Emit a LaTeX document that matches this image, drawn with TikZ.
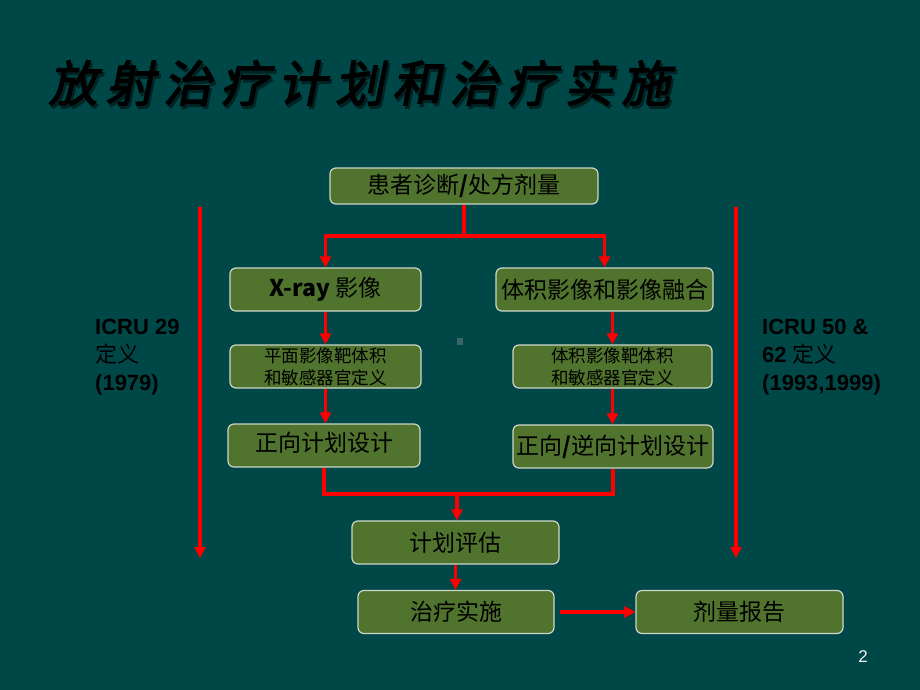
\documentclass[tikz,border=0pt]{standalone}
\usepackage{fontspec}
\setmainfont{Liberation Sans}
\newfontfamily\cjk{Noto Sans CJK SC}
\newfontfamily\titlefont{Noto Sans CJK SC}[FakeSlant=0.2,FakeBold=2.5]
\usetikzlibrary{arrows.meta}
\definecolor{bg}{RGB}{0,72,72}
\definecolor{boxfill}{RGB}{80,115,45}
\definecolor{boxline}{RGB}{205,215,200}
\definecolor{shadowc}{RGB}{0,36,36}
\definecolor{dotc}{RGB}{60,100,100}
\begin{document}
\begin{tikzpicture}[x=1pt,y=-1pt,
  box/.style={draw=boxline, line width=1.2pt, fill=boxfill, rounded corners=6pt,
    inner sep=0pt, align=center, text=black, font=\cjk\fontsize{23}{26}\selectfont},
  smallbox/.style={box, font=\cjk\fontsize{17.5}{22}\selectfont},
  conn/.style={draw=red, line width=3.4pt},
  arr/.style={conn, -{Triangle[length=11pt,width=11pt]}},
  lbl/.style={anchor=north west, align=left, inner sep=0pt, text=black,
    font=\fontsize{22}{28}\selectfont},
  ttl/.style={inner sep=0pt, font=\titlefont\fontsize{49}{52}\selectfont}]
\fill[bg] (0,0) rectangle (920,690);
\useasboundingbox (0,0) rectangle (920,690);

% title (one glyph per position, spaced as in the reference)
\foreach \ch [count=\i from 0] in {放,射,治,疗,计,划,和,治,疗,实,施}
  \node[ttl, text=shadowc] (tsh\i) at (75+\i*57.3,86) {\ch};
\foreach \ch [count=\i from 0] in {放,射,治,疗,计,划,和,治,疗,实,施}
  \node[ttl, text=black] (t\i) at (73+\i*57.3,83) {\ch};

% boxes
\node[box, minimum width=268pt, minimum height=36pt] (top) at (464,186) {患者诊断\textbf{/}处方剂量};
\node[box, minimum width=191pt, minimum height=43pt] (xray) at (325.5,289.5) {{\bfseries X-ray} 影像};
\node[box, minimum width=217pt, minimum height=43pt] (vol) at (604.5,289.5) {体积影像和影像融合};
\node[smallbox, minimum width=191pt, minimum height=43pt] (plan) at (325.5,366.5) {平面影像靶体积\\和敏感器官定义};
\node[smallbox, minimum width=199pt, minimum height=43pt] (volt) at (612.5,366.5) {体积影像靶体积\\和敏感器官定义};
\node[box, minimum width=192pt, minimum height=43pt] (fwd) at (324,445.5) {\raisebox{7pt}{正向计划设计}};
\node[box, minimum width=200pt, minimum height=43pt] (inv) at (613,446.5) {正向\textbf{/}逆向计划设计};
\node[box, minimum width=207pt, minimum height=43pt] (eval) at (455.5,542.5) {计划评估};
\node[box, minimum width=196pt, minimum height=43pt] (treat) at (456,612) {治疗实施};
\node[box, minimum width=207pt, minimum height=43pt] (dose) at (739.5,612) {剂量报告};

% connectors
\coordinate (j1) at (464,236);
\draw[conn] (top.south) -- (j1);
\draw[arr] (j1) -| (xray.north);
\draw[arr] (j1) -| (vol.north);
\draw[arr] (xray.south) -- (plan.north);
\draw[arr] (plan.south) -- (fwd.north -| plan.south);
\draw[arr] (volt.north |- vol.south) -- (volt.north);
\draw[arr] (volt.south) -- (inv.north -| volt.south);
\coordinate (j2) at (457,494);
\draw[conn] (fwd.south) |- (j2);
\draw[conn] (inv.south) |- (j2);
\draw[arr] (j2) -- (j2 |- eval.north);
\draw[arr] (eval.south) -- (eval.south |- treat.north);
\coordinate (t1) at (560,612);
\draw[arr] (t1) -- (dose.west);

% side arrows
\coordinate (l1) at (200,207);
\coordinate (l2) at (200,558);
\coordinate (r1) at (736,207);
\coordinate (r2) at (736,558);
\draw[arr] (l1) -- (l2);
\draw[arr] (r1) -- (r2);

% side labels
\node[lbl] (lefttxt) at (95,319) {\bfseries ICRU 29\\{\cjk\mdseries 定义}\\\bfseries (1979)};
\node[lbl] (righttxt) at (762,319) {\bfseries ICRU 50 \&\\\bfseries 62 {\cjk\mdseries 定义}\\\bfseries (1993,1999)};

% stray dot
\fill[dotc] (457,338) rectangle (463,345);

% page number
\node[text=white!90!gray, font=\fontsize{17}{20}\selectfont] (pnum) at (863,657) {2};
\end{tikzpicture}
\end{document}
